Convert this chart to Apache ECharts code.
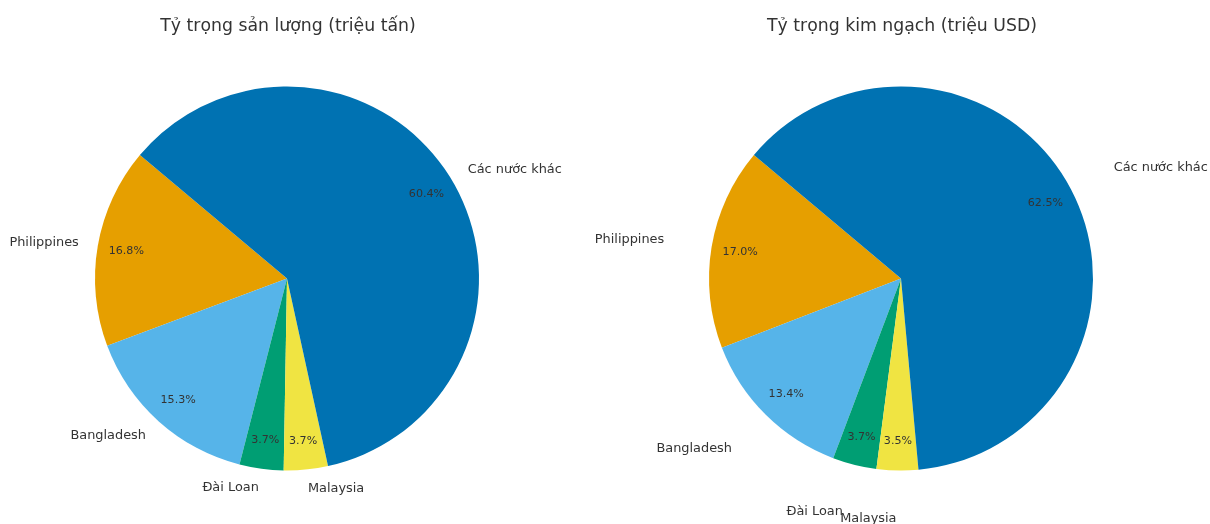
<!DOCTYPE html>
<html>
<head>
<meta charset="utf-8">
<script src="https://cdn.jsdelivr.net/npm/echarts@6/dist/echarts.min.js"></script>
<style>
html,body{margin:0;padding:0;background:#fff;overflow:hidden;}
#chart{width:1210px;height:544px;}
</style>
</head>
<body>
<div id="chart"></div>
<script>
const categories = ['Philippines', 'Bangladesh', 'Đài Loan', 'Malaysia', 'Các nước khác'];
const volumeShare = [16.8, 15.3, 3.7, 3.7, 60.4];
const valueShare = [17.0, 13.4, 3.7, 3.5, 62.5];
const colors = ['#E69F00', '#56B4E9', '#009E73', '#F0E442', '#0072B2'];
const titles = ['Tỷ trọng sản lượng (triệu tấn)', 'Tỷ trọng kim ngạch (triệu USD)'];

const FONT = '"DejaVu Sans", sans-serif';
const R = 192;
const CY = 278.5;

function mainSeries(values, cx, labelLen) {
  return {
    type: 'pie',
    center: [cx, CY],
    radius: R,
    startAngle: 140,
    clockwise: false,
    avoidLabelOverlap: false,
    labelLayout: { hideOverlap: false },
    silent: true,
    emphasis: { disabled: true },
    itemStyle: { borderWidth: 0 },
    label: {
      show: true,
      position: 'outside',
      formatter: '{b}',
      color: '#333',
      fontFamily: FONT,
      fontSize: 12.9,
      distanceToLabelLine: 0
    },
    labelLine: { show: false, length: labelLen, length2: 0 },
    data: categories.map((c, i) => ({ name: c, value: values[i], itemStyle: { color: colors[i] } }))
  };
}

function pctSeries(values, cx) {
  return {
    type: 'pie',
    center: [cx, CY],
    radius: [128, R],
    startAngle: 140,
    clockwise: false,
    avoidLabelOverlap: false,
    labelLayout: { hideOverlap: false },
    silent: true,
    emphasis: { disabled: true },
    itemStyle: { color: 'rgba(0,0,0,0)', borderWidth: 0 },
    label: {
      show: true,
      position: 'inside',
      formatter: p => p.value.toFixed(1) + '%',
      color: '#333',
      fontFamily: FONT,
      fontSize: 11.1
    },
    labelLine: { show: false },
    data: categories.map((c, i) => ({ name: c, value: values[i] }))
  };
}

const chart = echarts.init(document.getElementById('chart'), null, { renderer: 'canvas' });
chart.setOption({
  animation: false,
  backgroundColor: '#fff',
  title: [
    { text: titles[0], left: 283, top: 13, textAlign: 'center',
      textStyle: { fontFamily: FONT, fontSize: 17.3, fontWeight: 'normal', color: '#333' } },
    { text: titles[1], left: 897, top: 13, textAlign: 'center',
      textStyle: { fontFamily: FONT, fontSize: 17.3, fontWeight: 'normal', color: '#333' } }
  ],
  series: [
    mainSeries(volumeShare, 287, R * 0.1),
    pctSeries(volumeShare, 287),
    mainSeries(valueShare, 901, R * 0.25),
    pctSeries(valueShare, 901)
  ]
});
</script>
</body>
</html>
